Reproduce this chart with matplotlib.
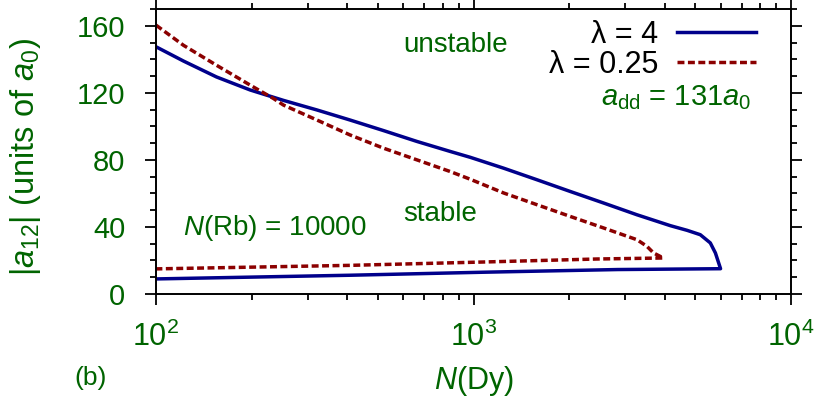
import matplotlib
matplotlib.use("Agg")
import matplotlib.pyplot as plt
from matplotlib.ticker import MultipleLocator, LogLocator, NullFormatter

plt.rcParams.update({
    'font.family': ['Liberation Sans', 'DejaVu Sans'],
    'font.size': 20,
    'mathtext.fontset': 'custom',
    'mathtext.rm': 'Liberation Sans',
    'mathtext.it': 'Liberation Sans:italic',
    'mathtext.bf': 'Liberation Sans:bold',
})

green = '#006400'
blue = '#00008b'
red = '#8b0000'

# lambda = 4 : upper branch then lower branch back to N = 100
n_l4 = [100, 122, 155, 198, 252, 321, 408, 520, 663, 845, 977, 1245, 1585, 2018, 2571,
        3273, 4169, 4710, 5180, 5570, 5780, 6000,
        2840, 1073, 408, 100]
a_l4 = [147.5, 139.0, 129.5, 121.7, 115.5, 109.8, 103.8, 97.5, 91.0, 85.0, 81.5, 75.0, 68.1, 61.1, 54.2,
        47.2, 40.7, 37.9, 35.3, 30.4, 24.4, 15.0,
        14.5, 12.9, 11.1, 8.9]

# lambda = 0.25
n_l025 = [100, 122, 155, 198, 234, 252, 321, 408, 520, 663, 845, 977, 1245, 1585, 2018, 2571,
          3273, 3516, 3690, 3963,
          2450, 1073, 408, 100]
a_l025 = [160.4, 148.4, 136.5, 124.6, 116.7, 112.7, 103.8, 94.9, 87.0, 80.0, 73.0, 68.4, 60.2, 53.2, 46.2, 39.3,
          32.3, 28.4, 24.4, 21.4,
          20.8, 19.0, 17.0, 14.9]

fig = plt.figure(figsize=(8.3, 3.96), dpi=100)
ax = fig.add_axes([0.188, 0.258, 0.765, 0.719])

ax.plot(n_l4, a_l4, color=blue, lw=2.5, label='λ = 4', solid_joinstyle='round')
ax.plot(n_l025, a_l025, color=red, lw=2.5, ls=(0, (2.0, 1.0)), label='λ = 0.25')

ax.set_xscale('log')
ax.set_xlim(100, 10000)
ax.set_ylim(0, 170)
ax.yaxis.set_major_locator(MultipleLocator(40))
ax.yaxis.set_minor_locator(MultipleLocator(10))
ax.xaxis.set_major_locator(LogLocator(base=10, numticks=5))
ax.xaxis.set_minor_locator(LogLocator(base=10, subs=range(2, 10), numticks=20))
ax.xaxis.set_minor_formatter(NullFormatter())

for s in ax.spines.values():
    s.set_linewidth(1.4)
ax.tick_params(which='both', direction='out', top=True, right=True, width=1.3,
               labelcolor=green)
ax.tick_params(axis='y', labelsize=21, pad=14)
ax.tick_params(axis='x', labelsize=22)
ax.tick_params(which='major', length=8)
ax.tick_params(which='minor', length=4)
ax.tick_params(axis='x', which='major', pad=12)

ax.set_xlabel(r'$N$(Dy)', color=green, fontsize=22)
ax.xaxis.set_label_coords(0.5, -0.245)
ax.set_ylabel(r'$|a_{12}|$ (units of $a_0$)', color=green, fontsize=23.5)
ax.yaxis.set_label_coords(-0.178, 0.48)

leg = ax.legend(loc='upper right', markerfirst=False, frameon=False, fontsize=22,
                handlelength=2.6, handletextpad=0.6, labelspacing=0.0,
                borderaxespad=0.0, borderpad=0.1, bbox_to_anchor=(0.95, 0.973))

ax.text(0.39, 0.875, 'unstable', transform=ax.transAxes, color=green, fontsize=20, va='center')
ax.text(0.39, 0.28, 'stable', transform=ax.transAxes, color=green, fontsize=20, va='center')
ax.text(0.042, 0.23, r'$N$(Rb) = 10000', transform=ax.transAxes, color=green, fontsize=20,
        va='center')
ax.text(0.938, 0.69, r'$a_{\rm dd}$ = 131$a_0$', transform=ax.transAxes, color=green,
        fontsize=21, va='center', ha='right')
fig.text(0.09, 0.045, '(b)', color=green, fontsize=19, va='center')

fig.savefig('out.png', dpi=100)
